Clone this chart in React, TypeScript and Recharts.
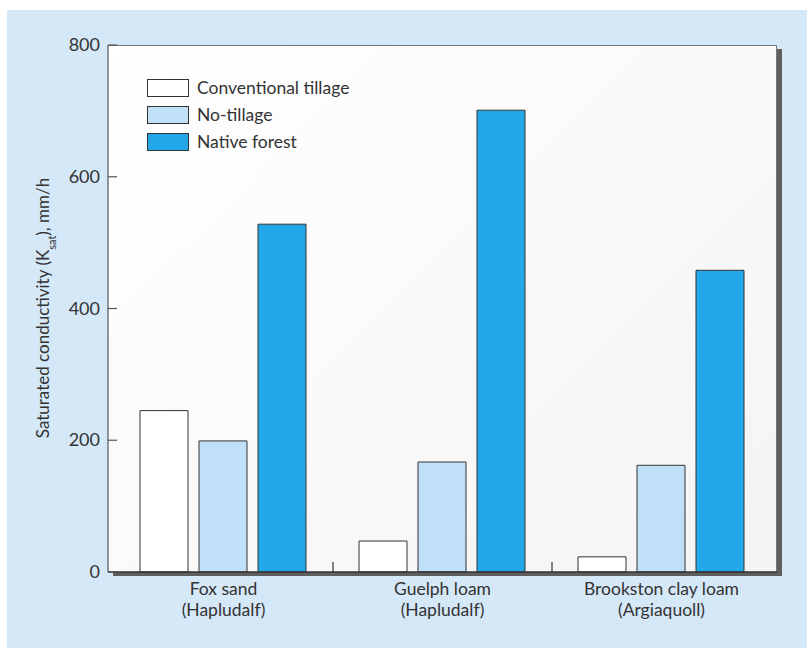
import React from 'react'
import { BarChart, Bar, XAxis, YAxis, ReferenceLine } from 'recharts'

const soils = ['Fox sand', 'Guelph loam', 'Brookston clay loam']
const soilOrders = ['(Hapludalf)', '(Hapludalf)', '(Argiaquoll)']
const conventional = [245, 47, 23]
const noTillage = [199, 167, 162]
const nativeForest = [528, 701, 458]
const yTicks = [0, 200, 400, 600, 800]

const seriesNames = ['Conventional tillage', 'No-tillage', 'Native forest']
const seriesKeys = ['conventional', 'noTillage', 'nativeForest']
const seriesColors = ['#ffffff', '#c0e0f8', '#22a8e8']

const data = soils.map((s, i) => ({
  soil: s,
  order: soilOrders[i],
  conventional: conventional[i],
  noTillage: noTillage[i],
  nativeForest: nativeForest[i],
}))

const FONT = 'Lato, "Open Sans", sans-serif'
const TEXT = '#333'

// plot rect (used for the frame and shadow only)
const PL = 108, PT = 45, PR = 777, PB = 572

const YTick = ({ x, y, payload }: any) => (
  <g>
    <line x1={x + 8} x2={x + 17} y1={y} y2={y} stroke="#555" strokeWidth={1.2} />
    <text x={x} y={y} dy={6} textAnchor="end" fontSize={18} fill={TEXT} fontFamily={FONT}>{payload.value}</text>
  </g>
)

const XTick = ({ x, y, payload, index }: any) => (
  <text x={x} y={y} textAnchor="middle" fontSize={17.5} fill={TEXT} fontFamily={FONT}>
    <tspan x={x} dy={15}>{payload.value}</tspan>
    <tspan x={x} dy={21}>{soilOrders[index]}</tspan>
  </text>
)

export default function App() {
  return (
    <div style={{ position: 'absolute', left: 0, top: 0, width: 807, height: 648, background: '#fff', overflow: 'hidden' }}>
      <div style={{ position: 'absolute', left: 7, top: 10, width: 800, height: 638, background: '#d5e8f8' }} />
      {/* frame shadow and plot background */}
      <div style={{ position: 'absolute', left: PL + 5, top: PT + 4, width: PR - PL, height: PB - PT, background: '#5e5e5e' }} />
      <div style={{ position: 'absolute', left: PL, top: PT, width: PR - PL, height: PB - PT, background: 'linear-gradient(135deg, #ffffff 0%, #f4f4f4 100%)', boxSizing: 'border-box', borderTop: '1px solid #777', borderRight: '1px solid #777' }} />
      <div style={{ position: 'absolute', left: 0, top: 0 }}>
        <BarChart
          width={807}
          height={648}
          data={data}
          margin={{ top: PT, right: 807 - PR, bottom: 648 - PB - 40, left: PL - 70 }}
          barCategoryGap={26}
          barGap={11}
        >
          <XAxis
            dataKey="soil"
            height={40}
            padding={{ left: 6, right: 6 }}
            tickLine={false}
            axisLine={{ stroke: '#333', strokeWidth: 1.5 }}
            tick={<XTick />}
            interval={0}
          />
          <YAxis
            width={70}
            domain={[0, 800]}
            ticks={yTicks}
            tickSize={0}
            tickMargin={8}
            tickLine={false}
            axisLine={{ stroke: '#555', strokeWidth: 1.2 }}
            tick={<YTick />}
            label={{
              content: () => (
                <text transform="rotate(-90)" x={-308} y={49} textAnchor="middle" fontSize={17} fill={TEXT} fontFamily={FONT}>
                  Saturated conductivity (K<tspan baselineShift="sub" fontSize={11}>sat</tspan>), mm/h
                </text>
              ),
            }}
          />
          <ReferenceLine segment={[{ x: 'Fox sand', y: 0 }, { x: 'Fox sand', y: 15 }]} position="end" stroke="#333" strokeWidth={1.2} />
          <ReferenceLine segment={[{ x: 'Guelph loam', y: 0 }, { x: 'Guelph loam', y: 15 }]} position="end" stroke="#333" strokeWidth={1.2} />
          {seriesKeys.map((k, i) => (
            <Bar key={k} dataKey={k} name={seriesNames[i]} fill={seriesColors[i]} stroke="#333" strokeWidth={1} isAnimationActive={false} />
          ))}
        </BarChart>
      </div>
      {/* legend */}
      <div style={{ position: 'absolute', left: 147, top: 74, fontFamily: FONT, fontSize: 17.5, color: TEXT }}>
        {seriesNames.map((n, i) => (
          <div key={n} style={{ display: 'flex', alignItems: 'center', height: 27 }}>
            <span style={{ width: 40, height: 16, background: seriesColors[i], border: '1px solid #333', marginRight: 8, display: 'inline-block' }} />
            <span>{n}</span>
          </div>
        ))}
      </div>
    </div>
  )
}
